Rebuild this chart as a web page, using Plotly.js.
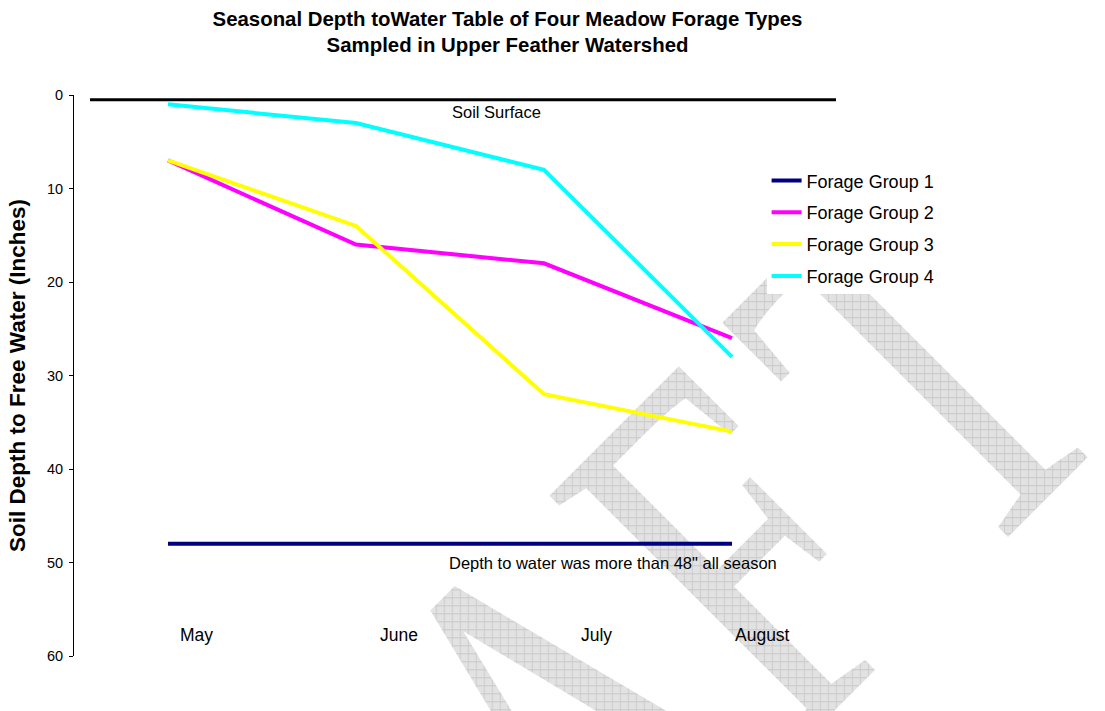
<!DOCTYPE html>
<html>
<head>
<meta charset="utf-8">
<script src="https://cdn.plot.ly/plotly-3.0.1.min.js"></script>
<style>
  body { margin: 0; background: #fff; }
  #wrap { position: relative; width: 1105px; height: 711px; overflow: hidden; }
  #wm { position: absolute; left: 0; top: 0; }
  #chart { position: absolute; left: 0; top: 0; width: 1105px; height: 711px; }
</style>
</head>
<body>
<div id="wrap">
  <!-- faint "DRAFT" watermark behind the chart -->
  <svg id="wm" width="1105" height="711">
    <defs>
      <pattern id="hatch" width="8" height="8" patternUnits="userSpaceOnUse"
               patternTransform="scale(1.45,1) rotate(45)">
        <rect width="8" height="8" fill="#e2e2e2"/>
        <path d="M0,0.5H8M0.5,0V8" stroke="#cbcbcb" stroke-width="1"/>
      </pattern>
    </defs>
    <text transform="translate(235.5,1309.5) rotate(-45) scale(0.69,1)"
          font-family="Liberation Serif, Times New Roman, serif" font-size="540"
          fill="url(#hatch)">DRAF<tspan dx="60">T</tspan></text>
  </svg>
  <div id="chart"></div>
</div>
<script>
var months = ['May', 'June', 'July', 'August'];

var group1 = [48, 48, 48, 48];
var group2 = [7, 16, 18, 26];
var group3 = [7, 14, 32, 36];
var group4 = [1, 3, 8, 28];

var names = ['Forage Group 1', 'Forage Group 2', 'Forage Group 3', 'Forage Group 4'];
var colors = ['#000080', '#FF00FF', '#FFFF00', '#00FFFF'];
var series = [group1, group2, group3, group4];

var font = 'Liberation Sans, Arial, sans-serif';

var data = series.map(function (ys, i) {
  return {
    x: months,
    y: ys,
    name: names[i],
    type: 'scatter',
    mode: 'lines',
    legendgroup: 'g' + i,
    line: { color: colors[i], width: 4 }
  };
});

// month labels sit a little right of each category, like the original
var monthShift = [0.15, 0.23, 0.28, 0.16];
var notes = months.map(function (m, i) {
  return {
    x: i + monthShift[i], y: 57.7, xref: 'x', yref: 'y',
    text: m, showarrow: false, xanchor: 'center', yanchor: 'middle',
    font: { family: font, size: 17.5, color: '#000' }
  };
});
notes.push({
  x: 1.745, y: 1.8, xref: 'x', yref: 'y', text: 'Soil Surface',
  showarrow: false, xanchor: 'center', yanchor: 'middle',
  font: { family: font, size: 16.5, color: '#000' }
});
notes.push({
  x: 2.367, y: 50, xref: 'x', yref: 'y',
  text: 'Depth to water was more than 48" all season',
  showarrow: false, xanchor: 'center', yanchor: 'middle',
  font: { family: font, size: 16.5, color: '#000' }
});

var layout = {
  width: 1105,
  height: 711,
  paper_bgcolor: 'rgba(0,0,0,0)',
  plot_bgcolor: 'rgba(0,0,0,0)',
  margin: { l: 74, r: 279, t: 95, b: 55 },
  font: { family: font, color: '#000' },
  title: {
    text: 'Seasonal Depth toWater Table of Four Meadow Forage Types<br>Sampled in Upper Feather Watershed',
    font: { family: font, size: 20.4, weight: 'bold', color: '#000' },
    x: 0.4593, xref: 'container', xanchor: 'center',
    y: 0.964, yref: 'container', yanchor: 'top'
  },
  xaxis: {
    type: 'category',
    range: [-0.5, 3.5],
    showticklabels: false,
    showline: false,
    showgrid: false,
    zeroline: false,
    ticks: ''
  },
  yaxis: {
    range: [60, 0],
    dtick: 10,
    ticks: 'outside',
    ticklen: 4,
    tickcolor: '#000',
    ticklabelstandoff: 3,
    showline: true,
    linecolor: '#000',
    linewidth: 1,
    showgrid: false,
    zeroline: false,
    tickfont: { family: font, size: 14.5, color: '#000' },
    title: {
      text: 'Soil Depth to Free Water (Inches)',
      font: { family: font, size: 22.5, weight: 'bold', color: '#000' },
      standoff: 15
    }
  },
  shapes: [{
    type: 'line', xref: 'paper', yref: 'paper',
    x0: 0.0213, x1: 1.0133, y0: 0.9916, y1: 0.9916,
    line: { color: '#000', width: 3 }
  }],
  annotations: notes,
  showlegend: true,
  legend: {
    x: 0.921, xanchor: 'left',
    y: 0.88, yanchor: 'top',
    bgcolor: '#fff',
    borderwidth: 0,
    tracegroupgap: 5.4,
    font: { family: font, size: 18, color: '#000' }
  }
};

Plotly.newPlot('chart', data, layout, { displayModeBar: false, staticPlot: true });
</script>
</body>
</html>
